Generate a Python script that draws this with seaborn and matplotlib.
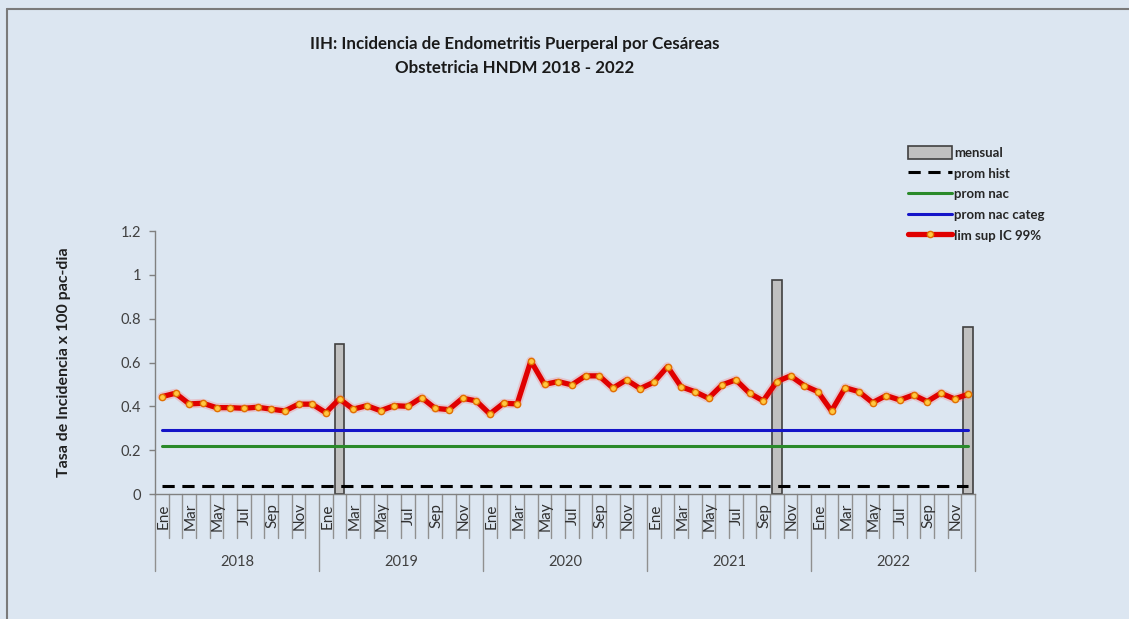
import numpy as np
import pandas as pd
import matplotlib
matplotlib.use("Agg")
import matplotlib.pyplot as plt
from matplotlib.patches import Patch
from matplotlib.lines import Line2D
import seaborn as sns

# ---------------- data ----------------
years = ["2018", "2019", "2020", "2021", "2022"]
month_names = ["Ene", "Feb", "Mar", "Abr", "May", "Jun",
               "Jul", "Ago", "Sep", "Oct", "Nov", "Dic"]
shown_months = ["Ene", "Mar", "May", "Jul", "Sep", "Nov"]

lim_sup_2018 = [0.444, 0.460, 0.411, 0.414, 0.394, 0.394, 0.391, 0.396, 0.387, 0.379, 0.410, 0.410]
lim_sup_2019 = [0.371, 0.434, 0.387, 0.403, 0.380, 0.403, 0.400, 0.440, 0.391, 0.385, 0.437, 0.425]
lim_sup_2020 = [0.365, 0.414, 0.411, 0.607, 0.500, 0.513, 0.498, 0.539, 0.539, 0.483, 0.521, 0.481]
lim_sup_2021 = [0.510, 0.581, 0.489, 0.467, 0.437, 0.498, 0.521, 0.460, 0.425, 0.513, 0.539, 0.495]
lim_sup_2022 = [0.467, 0.379, 0.485, 0.467, 0.417, 0.449, 0.429, 0.452, 0.422, 0.460, 0.434, 0.455]

# monthly rate: only months with a value (others empty)
mensual_months = ["2019-Feb", "2021-Oct", "2022-Dic"]
mensual_values = [0.685, 0.975, 0.760]

prom_hist = 0.035
prom_nac = 0.22
prom_nac_categ = 0.29

# ---------------- build table ----------------
labels = [f"{y}-{m}" for y in years for m in month_names]
lim_sup = lim_sup_2018 + lim_sup_2019 + lim_sup_2020 + lim_sup_2021 + lim_sup_2022
df = pd.DataFrame({"label": labels, "pos": np.arange(len(labels)), "lim_sup": lim_sup})
df["mensual"] = df["label"].map(dict(zip(mensual_months, mensual_values)))
df["prom_hist"] = prom_hist
df["prom_nac"] = prom_nac
df["prom_nac_categ"] = prom_nac_categ

# ---------------- style ----------------
BG = "#dce6f1"
sns.set_theme(style="white")
plt.rcParams["font.family"] = ["Lato", "DejaVu Sans"]

W, H = 1129, 619
fig = plt.figure(figsize=(W / 100, H / 100), dpi=100, facecolor=BG)
ax = fig.add_axes([155 / W, 1 - 494 / H, (975 - 155) / W, (494 - 231) / H])
ax.set_facecolor(BG)

# bars
bars = df.dropna(subset=["mensual"])
ax.bar(bars["pos"], bars["mensual"], width=0.72, color="#c0c0c0",
       edgecolor="#404040", linewidth=1.2, zorder=2)

# reference lines
sns.lineplot(data=df, x="pos", y="prom_hist", ax=ax, color="black",
             linewidth=2.2, zorder=3, legend=False)
ax.lines[-1].set_dashes([4, 2.5])
sns.lineplot(data=df, x="pos", y="prom_nac", ax=ax, color="#2a8a2a",
             linewidth=2.2, zorder=3, legend=False)
sns.lineplot(data=df, x="pos", y="prom_nac_categ", ax=ax, color="#1414c8",
             linewidth=2.2, zorder=3, legend=False)

# red limit line with glow
sns.lineplot(data=df, x="pos", y="lim_sup", ax=ax, color="#ff6060",
             linewidth=6.5, alpha=0.25, zorder=4, legend=False)
sns.lineplot(data=df, x="pos", y="lim_sup", ax=ax, color="#e00000",
             linewidth=3.8, marker="o", markersize=4.5,
             markerfacecolor="#ffc840", markeredgecolor="#e07000",
             markeredgewidth=1.0, zorder=5, legend=False)

ax.set_xlim(-0.5, len(labels) - 0.5)
ax.set_ylim(0, 1.2)
ax.set_yticks([0, 0.2, 0.4, 0.6, 0.8, 1.0, 1.2])
ax.set_yticklabels(["0", "0.2", "0.4", "0.6", "0.8", "1", "1.2"])
ax.tick_params(axis="y", left=True, length=4, width=1, color="#808080",
               labelsize=10.5, labelcolor="#404040", pad=6)
ax.set_xticks([])
ax.set_xlabel("")
ax.set_ylabel("Tasa de Incidencia x 100 pac-dia", fontsize=11.5,
              fontweight="bold", color="#202020", labelpad=36)

for s in ["top", "right"]:
    ax.spines[s].set_visible(False)
for s in ["left", "bottom"]:
    ax.spines[s].set_color("#808080")
    ax.spines[s].set_linewidth(1)

# multi-level category axis
trans = ax.get_xaxis_transform()
axh = (494 - 231)
for b in range(len(labels) + 1):
    xb = b - 0.5
    is_year = (b % 12 == 0)
    y_end = -77 / axh if is_year else -44 / axh
    ax.plot([xb, xb], [0, y_end], transform=trans, color="#909090",
            lw=1, clip_on=False, zorder=1)
for i, lab in enumerate(labels):
    m = lab.split("-")[1]
    if m in shown_months:
        ax.text(i + 0.1, -22 / axh, m, transform=trans, rotation=90,
                ha="center", va="center", fontsize=11, color="#303030")
for k, y in enumerate(years):
    ax.text(k * 12 + 5.5, -68 / axh, y, transform=trans, ha="center",
            va="center", fontsize=10.5, color="#404040")

# title
fig.text(515 / W, 1 - 44 / H, "IIH: Incidencia de Endometritis Puerperal por Cesáreas",
         ha="center", va="center", fontsize=12.2, fontweight="bold", color="#1a1a1a")
fig.text(515 / W, 1 - 68 / H, "Obstetricia HNDM 2018 - 2022",
         ha="center", va="center", fontsize=12.2, fontweight="bold", color="#1a1a1a")

# legend
handles = [
    Patch(facecolor="#c0c0c0", edgecolor="#404040", linewidth=1.2, label="mensual"),
    Line2D([], [], color="black", lw=2.2, dashes=[4, 2.5], label="prom hist"),
    Line2D([], [], color="#2a8a2a", lw=2.2, label="prom nac"),
    Line2D([], [], color="#1414c8", lw=2.2, label="prom nac categ"),
    Line2D([], [], color="#e00000", lw=3.8, marker="o", markersize=4.5,
           markerfacecolor="#ffc840", markeredgecolor="#e07000", label="lim sup IC 99%"),
]
leg = fig.legend(handles=handles, loc="upper left",
                 bbox_to_anchor=(908 / W, 1 - 146 / H), frameon=False,
                 prop={"weight": "bold", "size": 9.5}, handlelength=3.3,
                 handleheight=1.1, handletextpad=0.2, labelspacing=0.6,
                 borderaxespad=0, borderpad=0)

# outer border (top and left)
fig.add_artist(Line2D([7 / W, 7 / W], [0, 1 - 9 / H], transform=fig.transFigure,
                      color="#7a7a7a", lw=1.5))
fig.add_artist(Line2D([7 / W, 1], [1 - 9 / H, 1 - 9 / H], transform=fig.transFigure,
                      color="#7a7a7a", lw=1.5))

fig.savefig("out.png", dpi=100, facecolor=BG)
